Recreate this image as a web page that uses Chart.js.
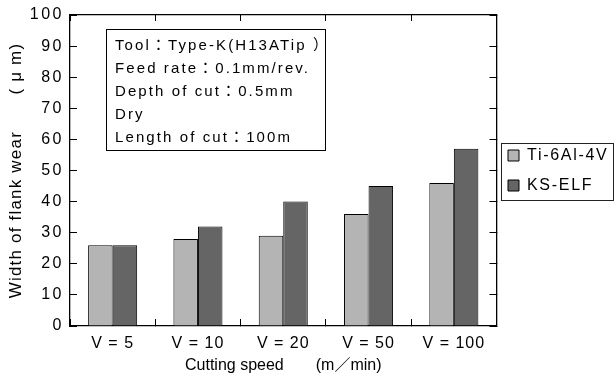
<!DOCTYPE html>
<html><head><meta charset="utf-8">
<script src="https://cdn.jsdelivr.net/npm/chart.js@4/dist/chart.umd.min.js"></script>
<style>html,body{margin:0;padding:0;background:#fff}#wrap{width:615px;height:381px}</style>
</head><body><div id="wrap"><canvas id="c" width="615" height="381"></canvas></div>
<script>
// ---- data ----
const categories = ['V = 5', 'V = 10', 'V = 20', 'V = 50', 'V = 100'];
const seriesNames = ['Ti-6Al-4V', 'KS-ELF'];
const tiValues = [26, 28, 29, 36, 46];
const ksValues = [26, 32, 40, 45, 57];
const yMin = 0, yMax = 100, yStep = 10;
const noteLines = ['Tool：Type-K(H13ATip ）', 'Feed rate：0.1mm/rev.', 'Depth of cut：0.5mm', 'Dry', 'Length of cut：100m'];
const xTitle = 'Cutting speed　　(m／min)';
const yTitle = 'Width of flank wear　　( μ m)';

const FONT = "'Liberation Sans', 'Noto Sans CJK JP', sans-serif";
const canvas = document.getElementById('c');
const ctx = canvas.getContext('2d');

// per-text letter spacing to mimic the wide lettering of the original
function spacingOf(t) {
  t = String(t);
  if (/^\d+$/.test(t)) return '2.5px';
  if (categories.includes(t)) return '1px';
  if (seriesNames.includes(t)) return '1.7px';
  if (noteLines.includes(t)) return '2.1px';
  if (t === xTitle) return '0px';
  if (t === yTitle) return '1.2px';
  return '0px';
}
const pFill = CanvasRenderingContext2D.prototype.fillText;
const pMeasure = CanvasRenderingContext2D.prototype.measureText;
ctx.fillText = function (t, x, y, mw) {
  const prev = this.letterSpacing; this.letterSpacing = spacingOf(t);
  if (mw === undefined) pFill.call(this, t, x, y); else pFill.call(this, t, x, y, mw);
  this.letterSpacing = prev;
};
ctx.measureText = function (t) {
  const prev = this.letterSpacing; this.letterSpacing = spacingOf(t);
  const m = pMeasure.call(this, t);
  this.letterSpacing = prev; return m;
};

Chart.defaults.font.family = FONT;
Chart.defaults.color = '#000';

const extras = {
  id: 'extras',
  afterLayout(chart) {
    const lg = chart.legend;
    if (!lg) return;
    lg.left = chart.chartArea.right - 2.5;
    lg.right = chart.width;
    lg.width = lg.right - lg.left;
  },
  afterDraw(chart) {
    const c = chart.ctx, a = chart.chartArea;
    c.save();
    // annotation box
    const x = a.left + 36, y = a.top + 14, w = 219, h = 121;
    c.fillStyle = '#fff'; c.fillRect(x, y, w, h);
    c.strokeStyle = '#000'; c.lineWidth = 1; c.strokeRect(x + 0.5, y + 0.5, w, h);
    c.fillStyle = '#000'; c.font = '15px ' + FONT; c.textBaseline = 'middle'; c.textAlign = 'left';
    noteLines.forEach((t, i) => c.fillText(t, x + 9, y + 17 + i * 23));
    // legend frame
    const lg = chart.legend, hb = lg.legendHitBoxes;
    if (hb && hb.length) {
      const l = hb[0].left - 7, t = hb[0].top - 5;
      const b = hb[hb.length - 1].top + hb[hb.length - 1].height + 6;
      c.strokeStyle = '#222'; c.lineWidth = 1;
      c.strokeRect(Math.round(l) + 0.5, Math.round(t) + 0.5, chart.width - 2 - Math.round(l), Math.round(b - t));
    }
    c.restore();
  }
};

const axisBorder = { display: true, color: '#000', width: 1.3 };
function noPad(s) { s.paddingTop = 0; s.paddingBottom = 0; }
new Chart(ctx, {
  type: 'bar',
  data: {
    labels: categories,
    datasets: [
      { label: seriesNames[0], data: tiValues, backgroundColor: '#b4b4b4', borderColor: '#000', borderWidth: 1, xAxisID: 'x', yAxisID: 'y' },
      { label: seriesNames[1], data: ksValues, backgroundColor: '#656565', borderColor: '#000', borderWidth: 1, xAxisID: 'x', yAxisID: 'y' }
    ]
  },
  options: {
    responsive: false,
    animation: false,
    devicePixelRatio: 1,
    layout: { padding: 0 },
    datasets: { bar: { categoryPercentage: 0.575, barPercentage: 1 } },
    scales: {
      x: {
        type: 'category', position: 'bottom', offset: true,
        grid: { offset: true, drawOnChartArea: false, tickLength: -7, color: '#000', lineWidth: 1 },
        border: axisBorder,
        ticks: { color: '#000', font: { size: 16 }, padding: 15, maxRotation: 0 },
        title: { display: true, text: xTitle, color: '#000', font: { size: 16 }, padding: { top: 0, bottom: 6 } },
        afterFit(s) { s.height = 55; }
      },
      xTop: {
        type: 'category', position: 'top', offset: true,
        grid: { offset: true, drawOnChartArea: false, tickLength: -6, color: '#000', lineWidth: 1 },
        border: axisBorder,
        ticks: { display: false },
        afterFit(s) { s.height = 15; }
      },
      y: {
        type: 'linear', position: 'left', min: yMin, max: yMax,
        grid: { drawOnChartArea: false, tickLength: -7, color: '#000', lineWidth: 1 },
        border: axisBorder,
        ticks: { stepSize: yStep, color: '#000', font: { size: 16 }, padding: 13 },
        title: { display: true, text: yTitle, color: '#000', font: { size: 17 }, padding: { top: 6, bottom: 0 } },
        afterFit(s) { s.width = 70; noPad(s); }
      },
      yRight: {
        type: 'linear', position: 'right', min: yMin, max: yMax,
        grid: { drawOnChartArea: false, tickLength: -7, color: '#000', lineWidth: 1 },
        border: axisBorder,
        ticks: { stepSize: yStep, display: false },
        afterFit(s) { s.width = 5; noPad(s); }
      }
    },
    plugins: {
      legend: {
        position: 'right', align: 'center', fullSize: false, maxWidth: 113.5,
        labels: { color: '#000', font: { size: 16 }, boxWidth: 11, boxHeight: 11, padding: 14 }
      },
      tooltip: { enabled: false }
    }
  },
  plugins: [extras]
});
</script></body></html>
